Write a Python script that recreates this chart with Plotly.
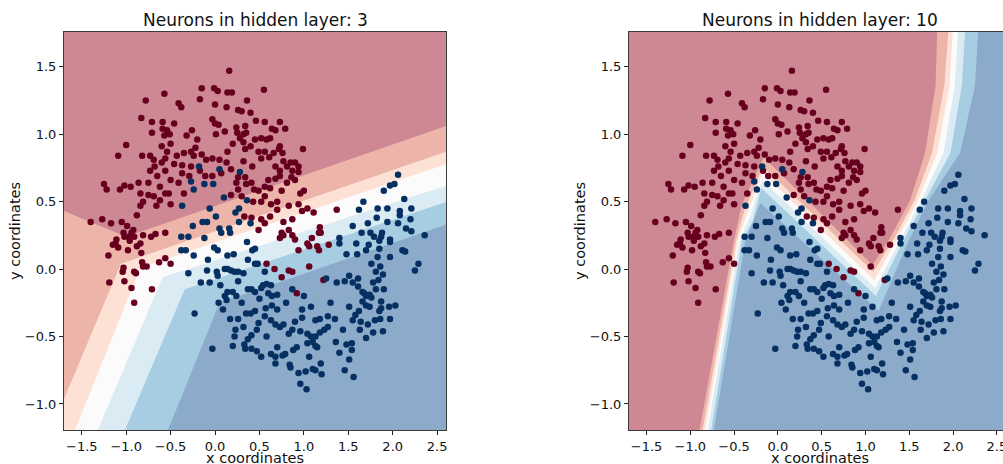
import plotly.graph_objects as go

# ---------------- data ----------------
red_pts = [
 (0.16,1.47),(-0.15,1.34),(-0.01,1.34),(0.03,1.32),(0.14,1.31),(0.19,1.31),(0.55,1.33),(-0.57,1.30),(-0.78,1.25),(-0.41,1.23),(-0.17,1.26),(0.36,1.25),
 (-0.38,1.20),(0.00,1.22),(0.13,1.20),(0.30,1.17),(0.40,1.16),(0.26,1.18),(-0.83,1.12),(-0.71,1.09),(-0.59,1.09),(-0.46,1.08),(0.46,1.10),(-0.03,1.11),
 (0.00,1.08),(0.04,1.07),(0.24,1.05),(0.34,1.06),(0.56,1.09),(0.73,1.09),(0.64,1.04),(0.68,1.03),(0.79,1.04),(-0.71,1.01),(-0.59,1.04),(-0.54,1.03),
 (-0.57,0.99),(-0.51,1.00),(-0.26,1.03),(-0.32,0.99),(0.01,1.00),(0.11,1.02),(0.32,1.00),(0.35,1.01),(0.25,1.01),(0.62,0.97),(0.52,0.97),(0.58,0.96),
 (-0.20,0.96),(-1.00,0.92),(-1.09,0.84),(-0.82,0.84),(-0.73,0.84),(-0.69,0.81),(-0.68,0.76),(-0.60,0.91),(-0.50,0.93),(-0.54,0.87),(-0.43,0.84),(-0.35,0.86),
 (-0.27,0.87),(-0.22,0.90),(-0.24,0.84),(-0.15,0.85),(-0.10,0.81),(-0.03,0.82),(0.05,0.81),(0.14,0.87),(0.20,0.93),(0.28,0.97),(0.32,0.94),(0.34,0.89),
 (0.40,0.91),(0.45,0.96),(0.49,0.87),(0.56,0.87),(0.52,0.82),(0.61,0.83),(0.66,0.86),(0.72,0.89),(0.76,0.86),(0.73,0.91),(0.68,0.76),(0.73,0.73),
 (0.81,0.76),(0.87,0.73),(0.85,0.79),(0.99,0.89),(0.90,0.79),(0.94,0.76),(0.77,0.80),(0.32,0.80),(0.42,0.76),(0.18,0.74),(0.13,0.79),(-0.27,0.76),
 (-0.37,0.77),(-0.46,0.78),(-0.56,0.82),(-0.60,0.79),(0.73,0.69),(0.86,0.68),(0.94,0.72),(0.90,0.66),(0.81,0.64),(0.68,0.67),(0.60,0.66),(0.62,0.60),
 (0.56,0.61),(0.49,0.58),(0.44,0.59),(0.41,0.64),(0.34,0.68),(0.24,0.64),(0.26,0.68),(0.07,0.71),(-0.03,0.69),(-0.11,0.69),(-0.17,0.73),(-0.29,0.69),
 (-0.37,0.71),(-0.41,0.64),(-0.50,0.66),(-0.56,0.73),(-0.65,0.69),(-0.73,0.73),(-0.75,0.64),(-0.86,0.64),(-0.95,0.61),(-1.02,0.62),(-1.07,0.59),(-1.22,0.59),
 (-1.25,0.63),(-0.84,0.56),(-0.75,0.55),(-0.69,0.54),(-0.62,0.51),(-0.56,0.56),(-0.62,0.61),(-0.52,0.56),(-0.35,0.56),(0.18,0.55),(0.26,0.59),(0.30,0.54),
 (0.35,0.63),(0.43,0.50),(0.52,0.50),(0.56,0.54),(0.63,0.48),(0.70,0.50),(0.75,0.58),(0.96,0.56),(1.00,0.58),(-1.40,0.35),(-1.27,0.37),(-1.17,0.34),
 (-1.05,0.35),(-0.99,0.32),(-0.94,0.27),(-1.03,0.27),(-1.11,0.22),(-0.97,0.24),(-0.88,0.40),(-0.84,0.47),(-0.81,0.50),(-0.66,0.47),(-0.50,0.48),(0.41,0.38),
 (0.33,0.39),(0.52,0.37),(0.56,0.34),(0.49,0.29),(0.62,0.39),(0.70,0.44),(0.83,0.47),(0.94,0.48),(1.04,0.45),(1.11,0.42),(0.98,0.43),(1.37,0.44),
 (1.18,0.31),(1.19,0.27),(0.83,0.29),(0.75,0.27),(0.73,0.23),(0.87,0.37),(0.77,0.35),(-1.19,-0.10),(-1.02,-0.09),(-0.91,-0.25),(-0.71,-0.15),(-0.94,-0.14),
 (-1.04,-0.02),(-1.03,0.01),(-0.91,-0.02),(-0.89,-0.03),(-0.81,0.02),(-0.82,0.05),(-0.77,0.02),(-0.63,0.05),(-0.56,0.08),(-0.50,0.04),(-0.83,0.12),(-0.84,0.19),
 (-0.81,0.25),(-0.72,0.24),(-0.67,0.26),(-0.96,0.21),(-1.02,0.24),(-0.91,0.24),(-1.15,0.18),(-1.12,0.19),(-1.20,0.10),(-1.09,0.16),(-0.98,0.14),(-0.88,0.17),
 (-0.92,0.29),(-0.56,0.27),(0.77,0.25),(0.87,0.25),(0.90,0.22),(1.04,0.19),(1.06,0.17),(1.15,0.17),(1.28,0.18),(1.17,0.27),(0.94,0.14),(1.06,0.02),
 (0.58,0.04),(0.67,0.00),(0.75,-0.06),(0.87,-0.02),(0.83,-0.01),(0.92,-0.18),(1.22,-0.08),(1.17,0.14),(1.09,0.23),
]
blue_pts = [
 (-0.18,0.76),(0.05,0.74),(0.28,0.72),(-0.27,0.65),(-0.12,0.63),(-0.02,0.63),(-0.24,0.59),(0.10,0.53),(0.36,0.51),(-0.37,0.47),(0.27,0.45),(0.23,0.42),
 (-0.06,0.45),(0.01,0.39),(-0.14,0.35),(-0.09,0.35),(-0.38,0.24),(-0.30,0.24),(-0.25,0.32),(-0.12,0.23),(0.05,0.30),(0.16,0.30),(0.27,0.35),(0.40,0.34),
 (2.06,0.70),(2.02,0.63),(1.97,0.62),(1.90,0.58),(2.13,0.52),(1.67,0.50),(1.62,0.44),(1.83,0.45),(1.94,0.45),(2.08,0.43),(2.21,0.45),(2.08,0.40),
 (1.82,0.38),(1.94,0.35),(2.06,0.34),(2.20,0.37),(1.72,0.34),(1.88,0.27),(2.15,0.30),(2.21,0.28),(2.36,0.25),(1.55,0.32),(1.75,0.27),(1.40,0.23),
 (-0.38,0.14),(-0.33,0.14),(-0.24,0.10),(-0.08,0.07),(-0.01,0.16),(0.03,0.14),(0.07,0.27),(0.17,0.27),(0.36,0.20),(0.42,0.14),(0.45,0.15),(0.14,0.10),
 (0.21,0.11),(0.37,0.07),(0.45,0.04),(1.40,0.19),(1.48,0.11),(1.59,0.19),(1.60,0.11),(1.70,0.14),(1.73,0.18),(1.79,0.24),(1.85,0.21),(1.87,0.24),
 (1.97,0.22),(1.97,0.20),(2.11,0.14),(2.14,0.13),(2.29,0.04),(2.25,-0.01),(1.97,0.09),(1.83,0.09),(1.85,0.15),(1.65,0.27),(-0.30,-0.03),(-0.16,-0.10),
 (-0.06,-0.10),(-0.23,-0.33),(-0.09,-0.01),(0.02,-0.02),(0.03,-0.05),(0.06,-0.12),(0.11,0.00),(0.14,0.00),(0.18,-0.01),(0.22,-0.02),(0.26,-0.02),(0.32,-0.03),
 (0.26,-0.09),(0.37,-0.15),(0.41,-0.15),(0.45,-0.17),(0.56,-0.02),(0.48,0.04),(0.14,-0.17),(0.11,-0.20),(0.20,-0.17),(0.13,-0.23),(0.24,-0.20),(0.04,-0.25),
 (0.54,-0.12),(0.52,-0.14),(0.60,-0.18),(0.64,-0.20),(0.70,-0.19),(0.63,-0.12),(0.58,-0.11),(0.87,-0.15),(1.00,-0.20),(0.98,-0.30),(1.08,-0.28),(1.37,-0.10),
 (1.25,-0.07),(1.46,-0.09),(1.51,-0.05),(1.61,-0.07),(1.55,-0.10),(1.61,-0.13),(1.66,-0.17),(1.68,-0.18),(1.70,-0.20),(1.74,-0.19),(1.76,-0.21),(1.81,-0.02),
 (1.76,0.04),(1.86,0.02),(1.89,-0.04),(1.84,-0.08),(1.78,-0.10),(1.90,-0.15),(1.81,-0.15),(1.74,-0.28),(1.87,-0.24),(1.96,-0.28),(2.03,-0.27),(1.85,-0.31),
 (1.66,-0.24),(1.70,-0.27),(1.62,-0.31),(1.58,-0.34),(1.51,-0.28),(1.55,-0.38),(1.44,-0.45),(1.48,-0.56),(1.54,-0.55),(1.54,-0.60),(1.51,-0.67),(1.40,-0.62),
 (1.36,-0.54),(1.70,-0.51),(1.78,-0.47),(1.89,-0.46),(1.72,-0.41),(1.63,-0.45),(1.64,-0.39),(1.80,-0.38),(1.86,-0.37),(1.87,-0.29),(1.97,-0.37),(0.35,-0.33),
 (0.26,-0.37),(0.17,-0.37),(0.32,-0.43),(0.23,-0.45),(0.22,-0.50),(0.37,-0.52),(0.41,-0.49),(0.47,-0.45),(0.49,-0.40),(0.56,-0.35),(0.63,-0.38),(0.68,-0.41),
 (0.73,-0.43),(0.77,-0.41),(0.83,-0.48),(0.87,-0.45),(0.96,-0.46),(1.04,-0.48),(1.08,-0.50),(1.13,-0.50),(1.18,-0.47),(1.23,-0.45),(1.27,-0.35),(1.13,-0.38),
 (1.27,-0.43),(1.35,-0.37),(1.18,-0.37),(0.90,-0.39),(0.98,-0.36),(0.70,-0.30),(0.64,-0.27),(0.57,-0.29),(0.45,-0.31),(0.40,-0.33),(-0.03,-0.59),(0.20,-0.57),
 (0.33,-0.56),(0.34,-0.59),(0.41,-0.59),(0.47,-0.61),(0.52,-0.65),(0.63,-0.63),(0.70,-0.58),(0.68,-0.65),(0.76,-0.64),(0.79,-0.63),(0.68,-0.70),(0.84,-0.71),
 (0.85,-0.73),(0.94,-0.77),(0.96,-0.85),(1.03,-0.89),(1.02,-0.76),(1.10,-0.74),(1.13,-0.75),(1.19,-0.70),(1.20,-0.78),(1.06,-0.65),(1.13,-0.57),(1.15,-0.58),
 (1.10,-0.54),(1.04,-0.55),(1.56,-0.80),(1.46,-0.75),(0.09,-0.30),(0.30,-0.25),(0.50,-0.22),(0.80,-0.25),(0.92,-0.58),(0.58,-0.50),(0.88,-0.60),(1.30,-0.25),
]
red_x = [p[0] for p in red_pts]
red_y = [p[1] for p in red_pts]
blue_x = [p[0] for p in blue_pts]
blue_y = [p[1] for p in blue_pts]

# Contour-level boundaries of the predicted probability,
# from the red-most boundary (1) to the blue-most boundary (6).
left_bx = [
 [-1.80, -1.00, 2.70],
 [-1.80, -1.06, 2.70],
 [-1.612, -0.84, 2.70],
 [-1.355, -0.59, 2.70],
 [-1.051, -0.34, 2.70],
 [-0.564, 0.05, 2.70],
]
left_by = [
 [0.457, 0.24, 1.083],
 [-1.12, 0.04, 0.893],
 [-1.25, 0.01, 0.80],
 [-1.25, -0.06, 0.64],
 [-1.25, -0.15, 0.52],
 [-1.25, -0.25, 0.353],
]
right_bx = [
 [-0.910, -0.500, -0.41, -0.160, 1.08, 1.27, 1.51, 1.68, 1.80, 1.82],
 [-0.874, -0.475, -0.38, -0.170, 1.09, 1.32, 1.56, 1.76, 1.90, 1.95],
 [-0.846, -0.455, -0.35, -0.175, 1.10, 1.36, 1.60, 1.82, 1.96, 2.00],
 [-0.816, -0.435, -0.32, -0.180, 1.11, 1.40, 1.64, 1.89, 2.02, 2.06],
 [-0.776, -0.410, -0.29, -0.190, 1.12, 1.44, 1.68, 1.97, 2.10, 2.14],
 [-0.746, -0.370, -0.31, -0.200, 1.15, 1.50, 1.72, 2.08, 2.25, 2.29],
]
right_by = [
 [-1.25, 0.22, 0.48, 0.83, 0.03, 0.22, 0.51, 0.86, 1.36, 1.80],
 [-1.25, 0.22, 0.44, 0.76, -0.02, 0.22, 0.51, 0.86, 1.36, 1.80],
 [-1.25, 0.22, 0.41, 0.71, -0.08, 0.22, 0.51, 0.86, 1.36, 1.80],
 [-1.25, 0.22, 0.38, 0.66, -0.14, 0.22, 0.51, 0.86, 1.36, 1.80],
 [-1.25, 0.22, 0.35, 0.60, -0.20, 0.22, 0.51, 0.86, 1.36, 1.80],
 [-1.25, 0.22, 0.31, 0.49, -0.31, 0.22, 0.51, 0.86, 1.36, 1.80],
]

titles = ["Neurons in hidden layer: 3", "Neurons in hidden layer: 10"]
x_ticks = [-1.5, -1.0, -0.5, 0.0, 0.5, 1.0, 1.5, 2.0, 2.5]
y_ticks = [-1.0, -0.5, 0.0, 0.5, 1.0, 1.5]

# ---------------- styling ----------------
band_colors = ["rgb(206,136,147)", "rgb(237,180,170)", "rgb(252,225,212)",
               "rgb(251,251,251)", "rgb(218,235,244)", "rgb(167,205,227)",
               "rgb(140,171,203)"]
RED = "#67001f"
BLUE = "#053061"
FONT = "DejaVu Sans"
W, H = 1003, 464

def fmt(v):
    s = f"{abs(v):.1f}"
    return ("\u2212" + s) if v < 0 else s

fig = go.Figure()

panels = [
    dict(xa="x", ya="y", bx=left_bx, by=left_by),
    dict(xa="x2", ya="y2", bx=right_bx, by=right_by),
]
BIG = 10
for p in panels:
    # paint the red side of each boundary, blue-most first
    for k in range(5, -1, -1):
        bx, by = p["bx"][k], p["by"][k]
        px = bx + [bx[-1], -BIG, -BIG]
        py = by + [BIG, BIG, by[0]]
        fig.add_trace(go.Scatter(x=px, y=py, xaxis=p["xa"], yaxis=p["ya"],
                                 mode="lines", fill="toself",
                                 fillcolor=band_colors[k],
                                 line=dict(width=0, color=band_colors[k]),
                                 hoverinfo="skip", showlegend=False))
    fig.add_trace(go.Scatter(x=red_x, y=red_y, xaxis=p["xa"], yaxis=p["ya"],
                             mode="markers",
                             marker=dict(color=RED, size=6.5, line=dict(width=0)),
                             showlegend=False))
    fig.add_trace(go.Scatter(x=blue_x, y=blue_y, xaxis=p["xa"], yaxis=p["ya"],
                             mode="markers",
                             marker=dict(color=BLUE, size=6.5, line=dict(width=0)),
                             showlegend=False))

y_bot, y_top = 464 - 430, 464 - 31.7
ydom = [y_bot / H, y_top / H]
axis_common = dict(showgrid=False, zeroline=False, showline=True, mirror=True,
                   automargin=False, ticklabeloverflow="allow",
                   linecolor="#3a3a3a", linewidth=1, ticks="outside", ticklen=4,
                   tickwidth=1, tickcolor="#222",
                   tickfont=dict(family=FONT, size=13, color="#111"))

fig.update_layout(
    template="none",
    width=W, height=H,
    margin=dict(l=0, r=0, t=0, b=0, pad=0, autoexpand=False),
    paper_bgcolor="white",
    plot_bgcolor=band_colors[6],
    font=dict(family=FONT, color="#111"),
    xaxis=dict(domain=[64 / W, 446 / W], range=[-1.70, 2.60], anchor="y",
               tickvals=x_ticks, ticktext=[fmt(v) for v in x_ticks], **axis_common),
    yaxis=dict(domain=ydom, range=[-1.193, 1.76], anchor="x",
               tickvals=y_ticks, ticktext=[fmt(v) for v in y_ticks], **axis_common),
    xaxis2=dict(domain=[629 / W, 1.0], range=[-1.70, 2.57], anchor="y2",
                tickvals=x_ticks, ticktext=[fmt(v) for v in x_ticks], **axis_common),
    yaxis2=dict(domain=ydom, range=[-1.193, 1.76], anchor="x2",
                tickvals=y_ticks, ticktext=[fmt(v) for v in y_ticks], **axis_common),
)

ann = []
centers = [(64 + 446) / 2, 629 + 191]
ylab_x = [15, 580]
for i in range(2):
    ann.append(dict(text=titles[i], x=centers[i] / W, y=(H - 20) / H,
                    xref="paper", yref="paper", showarrow=False,
                    xanchor="center", yanchor="middle",
                    font=dict(family=FONT, size=17, color="#111")))
    ann.append(dict(text="x coordinates", x=centers[i] / W, y=(H - 457.5) / H,
                    xref="paper", yref="paper", showarrow=False,
                    xanchor="center", yanchor="middle",
                    font=dict(family=FONT, size=14.5, color="#111")))
    ann.append(dict(text="y coordinates", x=ylab_x[i] / W, y=(H - 231) / H,
                    xref="paper", yref="paper", showarrow=False, textangle=-90,
                    xanchor="center", yanchor="middle",
                    font=dict(family=FONT, size=14.5, color="#111")))
fig.update_layout(annotations=ann)

fig.write_html(
    "out.html",
    config={"displayModeBar": False},
    post_script="document.body.style.margin='0';document.body.style.overflow='hidden';",
)
